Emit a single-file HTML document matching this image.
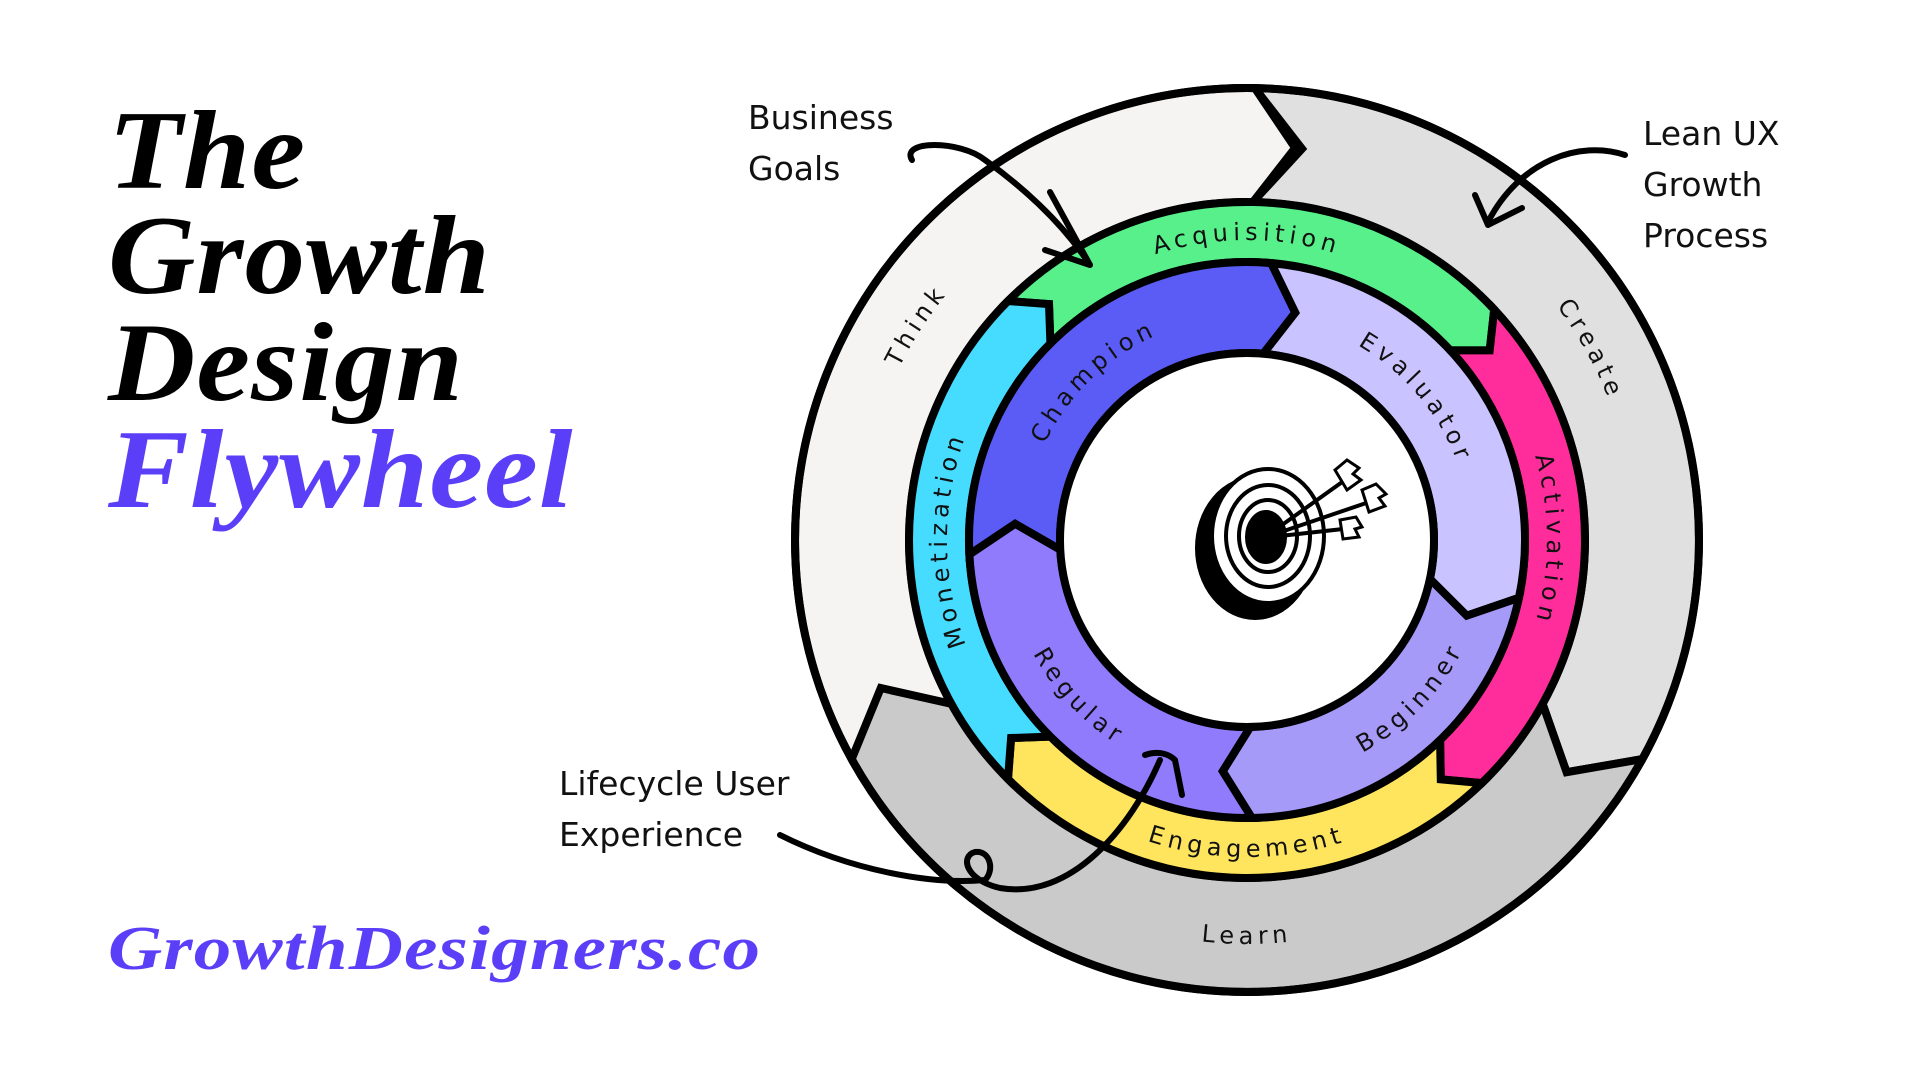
<!DOCTYPE html>
<html><head><meta charset="utf-8"><style>
html,body{margin:0;padding:0;background:#fff;}
body{width:1920px;height:1080px;overflow:hidden;position:relative;font-family:"Liberation Sans",sans-serif;}
.t{position:absolute;left:108px;font-family:"Liberation Serif",serif;font-weight:bold;font-style:italic;font-size:112px;line-height:1;letter-spacing:1px;transform-origin:left top;transform:scaleX(1.08);}
.ann{position:absolute;font-family:"DejaVu Sans","Liberation Sans",sans-serif;font-size:33px;line-height:51px;color:#111;}
svg text{font-family:"DejaVu Sans","Liberation Sans",sans-serif;}
</style></head><body>
<div class="t" style="top:95px">The</div>
<div class="t" style="top:200px">Growth</div>
<div class="t" style="top:307px">Design</div>
<div class="t" style="top:414px;color:#5b3ff8">Flywheel</div>
<div class="t" style="top:918px;font-size:62px;color:#5b3ff8;transform:scaleX(1.21)">GrowthDesigners.co</div>
<div class="ann" style="left:748px;top:92px">Business<br>Goals</div>
<div class="ann" style="left:1643px;top:108px">Lean UX<br>Growth<br>Process</div>
<div class="ann" style="left:559px;top:758px">Lifecycle User<br>Experience</div>
<svg width="1920" height="1080" style="position:absolute;left:0;top:0">
<defs id="defs"></defs>
<g id="rings" stroke="#000" stroke-width="8" stroke-linejoin="miter"></g>
<circle cx="1247" cy="540" r="187" fill="#fff" stroke="#000" stroke-width="8"/>
<circle cx="1247" cy="540" r="452" fill="none" stroke="#000" stroke-width="8"/>
<g font-size="24" letter-spacing="5" fill="#111">
<text><textPath href="#p_think" startOffset="50%" text-anchor="middle">Think</textPath></text>
<text><textPath href="#p_create" startOffset="50%" text-anchor="middle">Create</textPath></text>
<text><textPath href="#p_learn" startOffset="50%" text-anchor="middle">Learn</textPath></text>
<text><textPath href="#p_acq" startOffset="50%" text-anchor="middle">Acquisition</textPath></text>
<text><textPath href="#p_act" startOffset="50%" text-anchor="middle">Activation</textPath></text>
<text><textPath href="#p_eng" startOffset="50%" text-anchor="middle">Engagement</textPath></text>
<text><textPath href="#p_mon" startOffset="50%" text-anchor="middle">Monetization</textPath></text>
<text><textPath href="#p_cha" startOffset="50%" text-anchor="middle">Champion</textPath></text>
<text><textPath href="#p_eva" startOffset="50%" text-anchor="middle">Evaluator</textPath></text>
<text><textPath href="#p_beg" startOffset="50%" text-anchor="middle">Beginner</textPath></text>
<text><textPath href="#p_reg" startOffset="50%" text-anchor="middle">Regular</textPath></text>
</g>
<g stroke="#000" stroke-width="4">
<ellipse cx="1255" cy="548" rx="58" ry="70" fill="#000"/>
<ellipse cx="1268" cy="536" rx="56" ry="67" fill="#fff"/>
<ellipse cx="1268" cy="536" rx="42" ry="51" fill="none"/>
<ellipse cx="1268" cy="536" rx="29" ry="36" fill="none"/>
<ellipse cx="1266" cy="537" rx="19" ry="25" fill="#000"/>
<line x1="1275" y1="530" x2="1345" y2="480"/>
<line x1="1278" y1="533" x2="1375" y2="500"/>
<line x1="1280" y1="536" x2="1352" y2="528"/>
<path d="M1335 470 l12 -10 l12 8 l-6 6 l8 6 l-14 10 z" fill="#fff" stroke-width="3"/>
<path d="M1362 490 l14 -6 l10 10 l-7 4 l6 8 l-16 6 z" fill="#fff" stroke-width="3"/>
<path d="M1340 520 l16 -3 l6 10 l-7 2 l4 8 l-16 2 z" fill="#fff" stroke-width="3"/>
</g>
<g fill="none" stroke="#000" stroke-width="6" stroke-linecap="round" stroke-linejoin="round">
<path d="M912 160 C900 140 960 140 985 160 C1020 185 1060 220 1088 262"/>
<path d="M1050 192 L1090 265 L1045 250"/>
<path d="M1625 155 C1580 140 1520 160 1488 222"/>
<path d="M1475 195 L1488 225 L1522 208"/>
<path d="M780 835 C850 870 930 885 985 880 C995 870 990 850 975 852 C960 856 965 880 1000 888 C1070 900 1130 830 1160 760"/>
<path d="M1145 755 C1160 750 1170 755 1175 760 L1182 795"/>
</g>
</svg>
<script>
const C=[1247,540];
function P(r,a){a=a*Math.PI/180;return (C[0]+r*Math.cos(a)).toFixed(1)+" "+(C[1]+r*Math.sin(a)).toFixed(1);}
function seg(r1,r2,a1,a2,d,fill){
 const rm=(r1+r2)/2, large=(a2-a1)>180?1:0;
 return `<path fill="${fill}" d="M${P(r2,a1)} A${r2} ${r2} 0 ${large} 1 ${P(r2,a2)} L${P(rm,a2+d)} L${P(r1,a2)} A${r1} ${r1} 0 ${large} 0 ${P(r1,a1)} L${P(rm,a1+d)} Z"/>`;
}
let g="";
g+=seg(338,452,151,271,6,"#f5f4f2");
g+=seg(338,452,271,389,7,"#e0e0e0");
g+=seg(338,452,29,151,7,"#cacaca");
g+=seg(278,338,225,317,5,"#58f08a");
g+=seg(278,338,-43,46,5,"#ff2d9b");
g+=seg(278,338,46,135,5,"#ffe45e");
g+=seg(278,338,135,225,5,"#45dcff");
g+=seg(187,278,177,275,7,"#5b5cf6");
g+=seg(187,278,-85,12,7,"#c9c4ff");
g+=seg(187,278,12,89,7,"#a69af9");
g+=seg(187,278,89,177,7,"#8f7bfc");
document.getElementById("rings").innerHTML=g;
function arc(id,r,c,cw){
 let s=c-70,e=c+70;
 let d=cw?`M${P(r,s)} A${r} ${r} 0 0 1 ${P(r,e)}`:`M${P(r,e)} A${r} ${r} 0 0 0 ${P(r,s)}`;
 return `<path id="${id}" d="${d}"/>`;
}
let df="";
df+=arc("p_think",388,-147,1);
df+=arc("p_create",388,-29,1);
df+=arc("p_learn",404,90,0);
df+=arc("p_acq",300,-90,1);
df+=arc("p_act",300,0,1);
df+=arc("p_eng",317,90,0);
df+=arc("p_mon",300,180,1);
df+=arc("p_cha",224,-134,1);
df+=arc("p_eva",224,-40,1);
df+=arc("p_beg",242,44,0);
df+=arc("p_reg",242,137,0);
document.getElementById("defs").innerHTML=df;
document.querySelector("svg").innerHTML+="";
</script>
</body></html>
